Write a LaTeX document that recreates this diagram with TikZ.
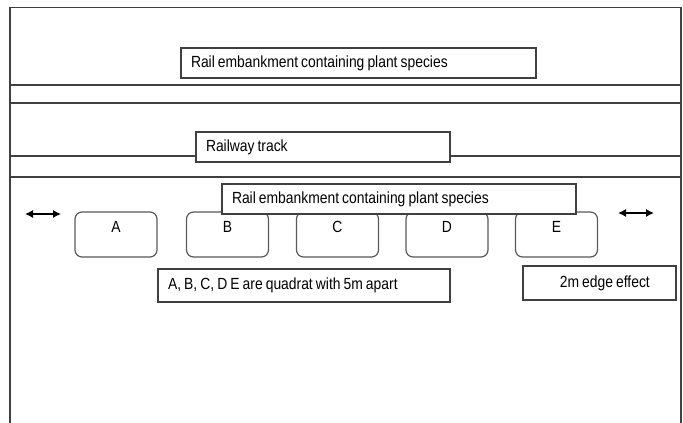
\documentclass[tikz,border=0pt]{standalone}
\usepackage{fontspec}
\setmainfont{Liberation Sans}[FakeStretch=0.86]
\usetikzlibrary{arrows.meta}
\newcommand{\labelfont}{\fontsize{12.1}{13.5}\selectfont}

\begin{document}
\begin{tikzpicture}[x=0.75pt, y=-0.75pt, font=\labelfont,
    every node/.style={execute at begin node={\spaceskip=0.19em\relax}},
    textbox/.style={draw=black!75, line width=0.8pt, fill=white, minimum height=22.5pt, inner xsep=7.5pt, align=left},
    quadrat/.style={draw=black!65, line width=0.9pt, fill=white, rounded corners=5.25pt, minimum width=61.5pt, minimum height=33.75pt, text height=8pt, text depth=10.5pt},
    track/.style={black!75, line width=0.8pt}]
        \useasboundingbox (0,0) rectangle (683,423);
        
        % Frame
        \draw[track] (10,423) -- (10,7.5) -- (681,7.5) -- (681,423);
        
        % Embankment and track lines
        \foreach \y in {85,103,156,177} {
            \draw[track] (10,\y) -- (681,\y);
        }
        
        % Labels along the rail
        \node[textbox, text width=251.25pt] (topbank) at (358.5,63) {Rail embankment containing plant species};
        \node[textbox, text width=175.5pt] (railway) at (323,147) {Railway track};
        
        % Quadrats
        \node[quadrat] (qa) at (116,234.5) {A};
        \node[quadrat] (qb) at (227.5,234.5) {B};
        \node[quadrat] (qc) at (337.5,234.5) {C};
        \node[quadrat] (qd) at (447,234.5) {D};
        \node[quadrat] (qe) at (556.5,234.5) {E};
        
        \node[textbox, text width=250.5pt] (lowbank) at (399,199) {Rail embankment containing plant species};
        
        % Edge arrows
        \coordinate (la) at (25,214);
        \coordinate (lb) at (61,214);
        \coordinate (ra) at (618,213);
        \coordinate (rb) at (654,213);
        \draw[{Latex[length=6pt,width=6pt]}-{Latex[length=6pt,width=6pt]}, line width=0.9pt] (la) -- (lb);
        \draw[{Latex[length=6pt,width=6pt]}-{Latex[length=6pt,width=6pt]}, line width=0.9pt] (ra) -- (rb);
        
        % Notes
        \node[textbox, text width=204pt, minimum height=24.75pt] (note) at (304,285.5) {A, B, C, D E are quadrat with 5m apart};
        \node[textbox, align=center, minimum width=114.75pt, minimum height=25.5pt] (edge) at (599.5,283) {\hspace{8pt}2m edge effect};
    \end{tikzpicture}
\end{document}
